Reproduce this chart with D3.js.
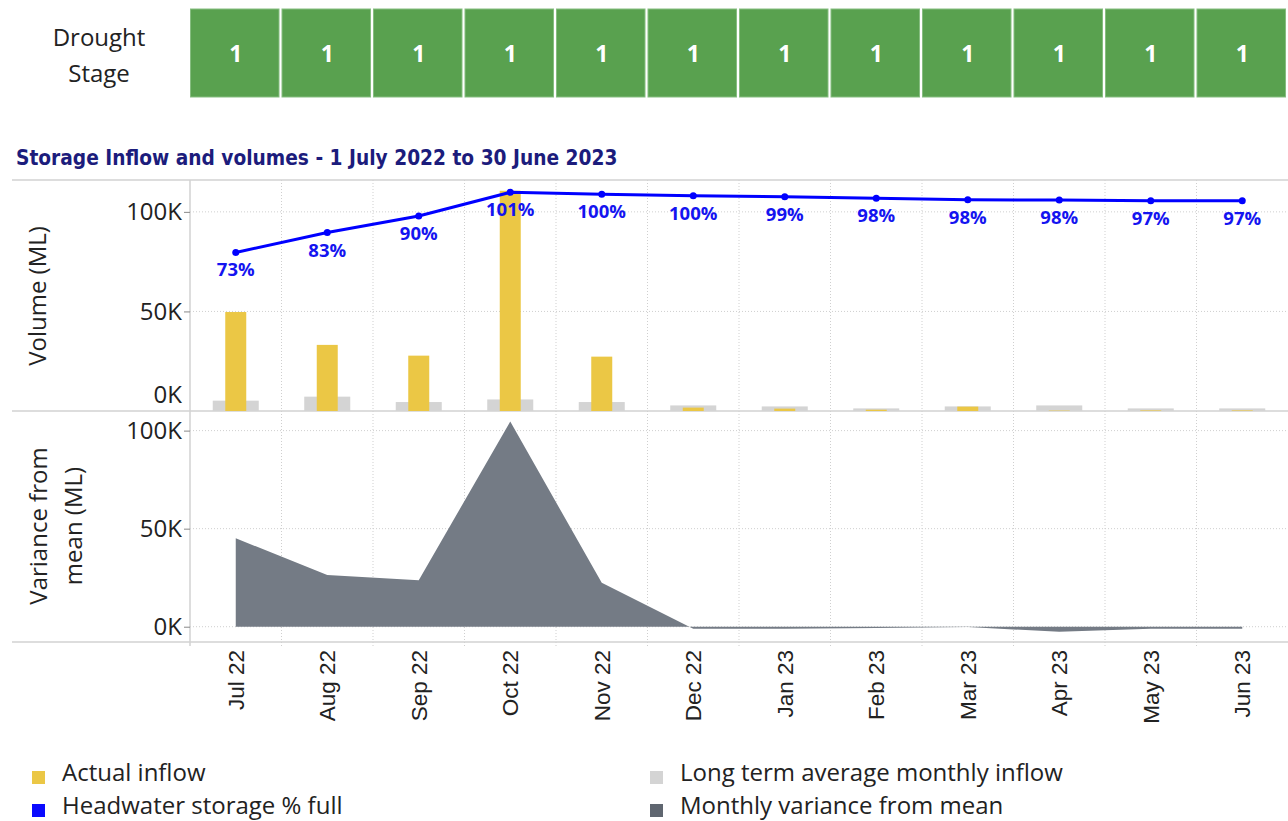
<!DOCTYPE html>
<html>
<head>
<meta charset="utf-8">
<script src="https://cdn.jsdelivr.net/npm/d3@7"></script>
<style>
  body { margin: 0; background: #fff; }
  svg text { font-family: "Open Sans", sans-serif; }
</style>
</head>
<body>
<div id="chart"></div>
<script>
// data
let months = ["Jul 22", "Aug 22", "Sep 22", "Oct 22", "Nov 22", "Dec 22", "Jan 23", "Feb 23", "Mar 23", "Apr 23", "May 23", "Jun 23"]
let droughtStage = [1, 1, 1, 1, 1, 1, 1, 1, 1, 1, 1, 1]
let actualInflow = [49700, 33200, 27800, 110600, 27300, 1700, 1200, 650, 2200, 200, 300, 300]
let longTermAvg = [5200, 7200, 4500, 5800, 4500, 2800, 2300, 1300, 2300, 2800, 1300, 1300]
let storageVolume = [79600, 89600, 97900, 109800, 108800, 108100, 107600, 106800, 106100, 105900, 105600, 105600]
let storagePct = [73, 83, 90, 101, 100, 100, 99, 98, 98, 98, 97, 97]
let variance = [45100, 26400, 23700, 104600, 22400, -1000, -1000, -600, -200, -2600, -1000, -1000]
let volTicks = [0, 50000, 100000]

let svgWidth = 1288
let svgHeight = 821

let svg = d3.select('#chart').append('svg').attr('width', svgWidth).attr('height', svgHeight)

// shared month scale
let x = d3.scaleBand().domain(months).range([190, 1288]).padding(0)
let bw = x.bandwidth()
let cx = m => x(m) + bw / 2

let rows = months.map((m, i) => ({
  m: m, stage: droughtStage[i], actual: actualInflow[i], avg: longTermAvg[i],
  vol: storageVolume[i], pct: storagePct[i], vr: variance[i]
}))

/* DROUGHT STAGE STRIP */
svg.append('text').attr('x', 99).attr('y', 46).attr('text-anchor', 'middle')
  .style('font-size', '24px').attr('fill', '#222').text('Drought')
svg.append('text').attr('x', 99).attr('y', 82).attr('text-anchor', 'middle')
  .style('font-size', '24px').attr('fill', '#222').text('Stage')

let cells = svg.append('g')
cells.selectAll('rect').data(rows).enter().append('rect')
  .attr('x', d => x(d.m) + 0.5)
  .attr('y', 9)
  .attr('width', bw - 3)
  .attr('height', 88)
  .attr('fill', '#59a14f')
  .attr('stroke', '#86bd80')
  .attr('stroke-width', 1)
cells.selectAll('text').data(rows).enter().append('text')
  .attr('x', d => cx(d.m))
  .attr('y', 62)
  .attr('text-anchor', 'middle')
  .attr('fill', '#fff')
  .style('font-size', '23px').style('font-weight', 'bold')
  .text(d => d.stage)

/* TITLE */
svg.append('text').attr('x', 16).attr('y', 165)
  .style('font-family', '"DejaVu Sans Condensed", "DejaVu Sans", sans-serif')
  .style('font-size', '20.7px').style('font-weight', 'bold')
  .attr('fill', '#1c1c7c')
  .text('Storage Inflow and volumes - 1 July 2022 to 30 June 2023')

/* SCALES */
let yTop = d3.scaleLinear().domain([0, 116000]).range([411, 180])
let yBot = d3.scaleLinear().domain([-7800, 110000]).range([642, 411])

// vertical grid at month boundaries
let grid = svg.append('g').attr('stroke', '#cfcfcf').attr('stroke-dasharray', '1,2')
grid.selectAll('line.v').data(months.slice(1)).enter().append('line')
  .attr('x1', d => x(d)).attr('x2', d => x(d)).attr('y1', 180).attr('y2', 646)
grid.selectAll('line.ht').data([50000, 100000]).enter().append('line')
  .attr('x1', 190).attr('x2', 1288).attr('y1', d => yTop(d)).attr('y2', d => yTop(d))
grid.selectAll('line.hb').data(volTicks).enter().append('line')
  .attr('x1', 190).attr('x2', 1288).attr('y1', d => yBot(d)).attr('y2', d => yBot(d))

// panel borders
let borders = svg.append('g').attr('stroke', '#d2d2d2').attr('stroke-width', 1.5)
;[180, 411, 642].forEach(yy => {
  borders.append('line').attr('x1', 12).attr('x2', 1288).attr('y1', yy).attr('y2', yy)
})
borders.append('line').attr('x1', 190).attr('x2', 190).attr('y1', 180).attr('y2', 646)

/* TOP PANEL: inflow bars + storage line */
let topPanel = svg.append('g')
topPanel.selectAll('rect.avg').data(rows).enter().append('rect')
  .attr('x', d => cx(d.m) - 23).attr('width', 46)
  .attr('y', d => yTop(d.avg)).attr('height', d => yTop(0) - yTop(d.avg))
  .attr('fill', '#d4d4d4')
topPanel.selectAll('rect.act').data(rows).enter().append('rect')
  .attr('x', d => cx(d.m) - 10.5).attr('width', 21)
  .attr('y', d => yTop(d.actual)).attr('height', d => yTop(0) - yTop(d.actual))
  .attr('fill', '#ebc745')

let line = d3.line().x(d => cx(d.m)).y(d => yTop(d.vol))
topPanel.append('path').datum(rows).attr('d', line)
  .attr('fill', 'none').attr('stroke', '#0000ff').attr('stroke-width', 3)
topPanel.selectAll('circle').data(rows).enter().append('circle')
  .attr('cx', d => cx(d.m)).attr('cy', d => yTop(d.vol)).attr('r', 3.5)
  .attr('fill', '#0000ff')
topPanel.selectAll('text.pct').data(rows).enter().append('text')
  .attr('x', d => cx(d.m)).attr('y', d => yTop(d.vol) + 24)
  .attr('text-anchor', 'middle')
  .attr('fill', '#1414f0')
  .style('font-size', '18.5px').style('font-weight', 'bold')
  .text(d => d.pct + '%')

let fmtK = d => (d / 1000) + 'K'
let axTop = svg.append('g').attr('transform', 'translate(190,0)')
  .call(d3.axisLeft(yTop).tickValues(volTicks).tickFormat(fmtK).tickSize(6).tickPadding(2))
let axBot = svg.append('g').attr('transform', 'translate(190,0)')
  .call(d3.axisLeft(yBot).tickValues(volTicks).tickFormat(fmtK).tickSize(6).tickPadding(2))
;[axTop, axBot].forEach(ax => {
  ax.select('.domain').remove()
  ax.selectAll('line').attr('stroke', '#888')
  ax.selectAll('text').style('font-size', '24px').attr('fill', '#222')
    .style('font-family', '"Open Sans", sans-serif')
})
// Tableau pushes the bottom label up so it stays inside the panel
axTop.selectAll('.tick').filter(d => d === 0).select('line').remove()
axTop.selectAll('.tick').filter(d => d === 0).select('text').attr('dy', '-0.35em')

/* BOTTOM PANEL: variance area */
let area = d3.area().x(d => cx(d.m)).y0(yBot(0)).y1(d => yBot(d.vr))
svg.append('path').datum(rows).attr('d', area).attr('fill', '#747b85')

/* AXIS TITLES */
svg.append('text').attr('transform', 'translate(46,296) rotate(-90)')
  .attr('text-anchor', 'middle').style('font-size', '24px').attr('fill', '#222')
  .text('Volume (ML)')
svg.append('text').attr('transform', 'translate(47,526) rotate(-90)')
  .attr('text-anchor', 'middle').style('font-size', '24px').attr('fill', '#222')
  .text('Variance from')
svg.append('text').attr('transform', 'translate(82,526) rotate(-90)')
  .attr('text-anchor', 'middle').style('font-size', '24px').attr('fill', '#222')
  .text('mean (ML)')

/* MONTH LABELS */
svg.append('g').selectAll('text').data(months).enter().append('text')
  .attr('transform', d => `translate(${cx(d) + 8},650) rotate(-90)`)
  .attr('text-anchor', 'end')
  .style('font-family', '"Liberation Sans", Arial, sans-serif')
  .style('font-size', '22.5px').attr('fill', '#222')
  .text(d => d)

/* LEGEND */
let legendItems = [
  { label: 'Actual inflow', color: '#ebc745', x: 32, y: 781 },
  { label: 'Headwater storage % full', color: '#0a0aff', x: 32, y: 814 },
  { label: 'Long term average monthly inflow', color: '#d4d4d4', x: 650, y: 781 },
  { label: 'Monthly variance from mean', color: '#5f6670', x: 650, y: 814 }
]
let legend = svg.append('g')
legend.selectAll('rect').data(legendItems).enter().append('rect')
  .attr('x', d => d.x).attr('y', d => d.y - 10).attr('width', 13).attr('height', 13)
  .attr('fill', d => d.color)
legend.selectAll('text').data(legendItems).enter().append('text')
  .attr('x', d => d.x + 30).attr('y', d => d.y)
  .style('font-size', '24px').attr('fill', '#222')
  .text(d => d.label)
</script>
</body>
</html>
